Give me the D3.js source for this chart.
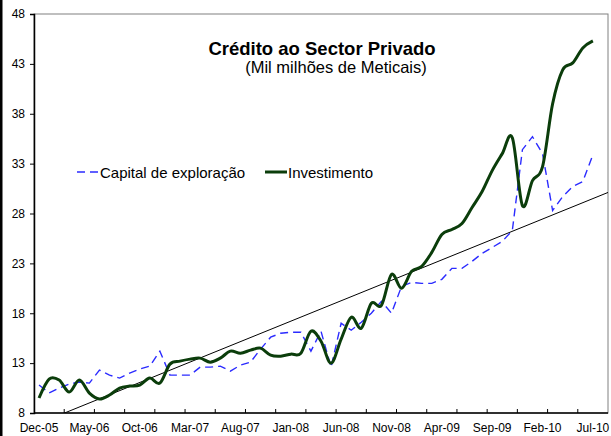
<!DOCTYPE html>
<html>
<head>
<meta charset="utf-8">
<script src="https://cdn.jsdelivr.net/npm/d3@7"></script>
<style>
  body { margin: 0; background: #fff; }
  svg { display: block; font-family: Arial, "Liberation Sans", sans-serif; }
</style>
</head>
<body>
<svg width="611" height="436"></svg>
<script>
const svg = d3.select("svg");
const width = +svg.attr("width");
const height = +svg.attr("height");

// monthly categories, Dec-05 .. Aug-10 (last one has no data)
const firstMonth = new Date(2005, 11, 1);
const nMonths = 57;

const tickLabels = ["Dec-05", "May-06", "Oct-06", "Mar-07", "Aug-07", "Jan-08",
    "Jun-08", "Nov-08", "Apr-09", "Sep-09", "Feb-10", "Jul-10"];

const yTicks = [8, 13, 18, 23, 28, 33, 38, 43, 48];

// Capital de exploração (Dec-05 .. Jul-10)
const capital = [10.8, 10.0, 10.5, 10.9, 11.1, 11.0, 12.3, 11.8, 11.5, 12.0,
    12.4, 12.7, 14.2, 11.8, 11.8, 11.8, 12.6, 12.6, 12.7, 12.2,
    12.8, 13.1, 14.4, 15.6, 16.0, 16.1, 16.1, 14.2, 16.2, 12.6,
    17.0, 16.3, 17.1, 18.0, 19.2, 18.0, 20.7, 21.1, 21.0, 21.0,
    21.4, 22.5, 22.5, 23.2, 24.0, 24.6, 25.2, 26.3, 34.4, 35.7,
    34.0, 28.3, 29.7, 30.7, 31.2, 33.9];

// Investimento (Dec-05 .. Jul-10)
const investimento = [9.5, 11.4, 11.3, 10.1, 11.3, 10.0, 9.4, 9.8, 10.5, 10.7,
    10.8, 11.5, 11.0, 12.9, 13.2, 13.4, 13.5, 13.1, 13.5, 14.2,
    14.0, 14.3, 14.5, 13.8, 13.7, 13.9, 14.0, 16.2, 15.2, 13.0,
    15.4, 17.6, 16.5, 19.0, 18.8, 21.9, 20.5, 22.2, 22.7, 24.1,
    25.9, 26.4, 27.0, 28.6, 30.2, 32.3, 34.0, 35.6, 28.8, 31.3,
    32.7, 39.0, 42.4, 43.1, 44.6, 45.3];

const fmt = d3.timeFormat("%b-%y");
const months = d3.range(nMonths).map(i => fmt(d3.timeMonth.offset(firstMonth, i)));

const margin = {left: 34, right: 3, top: 14, bottom: 23};
const plotW = width - margin.left - margin.right;
const plotH = height - margin.top - margin.bottom;

const x = d3.scaleBand().domain(months).range([margin.left, margin.left + plotW]);
const bw = x.bandwidth();
const cx = i => x(months[i]) + bw / 2;

const y = d3.scaleLinear().domain([8, 48]).range([margin.top + plotH, margin.top]);

// outer border (left side of the pasted chart)
svg.append("line")
    .attr("x1", 1).attr("x2", 1).attr("y1", 0).attr("y2", height)
    .attr("stroke", "#000").attr("stroke-width", 3);

svg.append("defs").append("clipPath").attr("id", "plotclip")
  .append("rect")
    .attr("x", margin.left).attr("y", margin.top)
    .attr("width", plotW).attr("height", plotH);

// plot frame
svg.append("rect")
    .attr("x", margin.left).attr("y", margin.top)
    .attr("width", plotW).attr("height", plotH)
    .attr("fill", "none").attr("stroke", "#808080").attr("stroke-width", 1);

//====== Axes ======

const yAxis = svg.append("g")
    .attr("transform", `translate(${margin.left},0)`)
    .call(d3.axisLeft(y).tickValues(yTicks).tickSize(4).tickPadding(5).tickFormat(d3.format("d")));
yAxis.select(".domain").attr("stroke", "#000").attr("stroke-width", 1.5);
yAxis.selectAll("text").attr("font-size", 12).attr("fill", "#000")
    .attr("font-family", "Arial, 'Liberation Sans', sans-serif");

// x axis: ticks every 3 months on category borders, labels every 5 months
const xAxisG = svg.append("g");
xAxisG.append("line")
    .attr("x1", margin.left).attr("x2", margin.left + plotW)
    .attr("y1", y(8)).attr("y2", y(8))
    .attr("stroke", "#000").attr("stroke-width", 1.5);
xAxisG.selectAll(".tk")
    .data(d3.range(3, nMonths, 3))
    .enter().append("line")
        .attr("x1", i => x(months[i])).attr("x2", i => x(months[i]))
        .attr("y1", y(8)).attr("y2", y(8) - 4)
        .attr("stroke", "#000");
xAxisG.selectAll("text")
    .data(tickLabels)
    .enter().append("text")
        .attr("x", d => x(d) + bw / 2)
        .attr("y", height - 4)
        .attr("text-anchor", "middle")
        .attr("font-size", 12)
        .text(d => d);

//====== Trend (linear fit of Capital de exploração) ======

const idx = d3.range(capital.length);
const mx = d3.mean(idx), my = d3.mean(capital);
const slope = d3.sum(idx, i => (i - mx) * (capital[i] - my)) / d3.sum(idx, i => (i - mx) * (i - mx));
const icpt = my - slope * mx;
const iLeft = -0.5, iRight = nMonths - 0.5;
const xi = i => margin.left + (i + 0.5) * bw;

svg.append("line")
    .attr("clip-path", "url(#plotclip)")
    .attr("x1", xi(iLeft)).attr("y1", y(icpt + slope * iLeft))
    .attr("x2", xi(iRight)).attr("y2", y(icpt + slope * iRight))
    .attr("stroke", "#000").attr("stroke-width", 1);

//====== Series ======

const blueLine = d3.line().x((d, i) => cx(i)).y(d => y(d));
const greenLine = d3.line().x((d, i) => cx(i)).y(d => y(d)).curve(d3.curveCardinal.tension(0));

svg.append("path")
    .datum(capital)
    .attr("d", blueLine)
    .attr("fill", "none")
    .attr("stroke", "#2b2bff")
    .attr("stroke-width", 1.4)
    .attr("stroke-dasharray", "8,5");

svg.append("path")
    .datum(investimento)
    .attr("d", greenLine)
    .attr("fill", "none")
    .attr("stroke", "#0b3d0b")
    .attr("stroke-width", 3);

//====== Title & legend ======

svg.append("text")
    .attr("x", 322).attr("y", 55)
    .attr("text-anchor", "middle")
    .attr("font-size", 18.5).attr("font-weight", "bold")
    .text("Crédito ao Sector Privado");
svg.append("text")
    .attr("x", 336).attr("y", 73)
    .attr("text-anchor", "middle")
    .attr("font-size", 16.5)
    .text("(Mil milhões de Meticais)");

const legend = [
    {label: "Capital de exploração", x: 77, color: "#2b2bff", dash: "8,5", w: 1.4},
    {label: "Investimento", x: 265, color: "#0b3d0b", dash: null, w: 3}
];
const lg = svg.append("g").selectAll("g").data(legend).enter().append("g");
lg.append("line")
    .attr("x1", d => d.x).attr("x2", d => d.x + 22)
    .attr("y1", 172).attr("y2", 172)
    .attr("stroke", d => d.color).attr("stroke-width", d => d.w)
    .attr("stroke-dasharray", d => d.dash);
lg.append("text")
    .attr("x", d => d.x + 23).attr("y", 177.5)
    .attr("font-size", 15)
    .text(d => d.label);
</script>
</body>
</html>
